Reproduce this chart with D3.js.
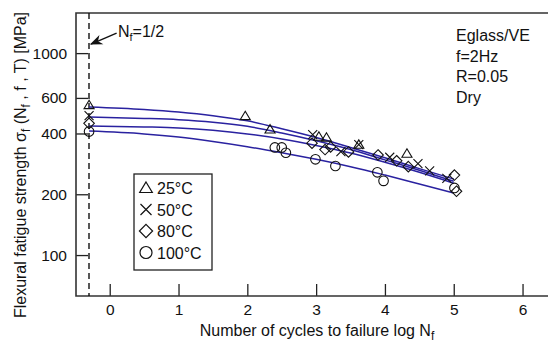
<!DOCTYPE html>
<html>
<head>
<meta charset="utf-8">
<script src="https://cdn.jsdelivr.net/npm/d3@7"></script>
<style>
  body { margin: 0; background: #fff; }
  svg text { font-family: "Liberation Sans", Arial, sans-serif; fill: #111; }
</style>
</head>
<body>
<div id="chart"></div>
<script>
// fitted curves at these log Nf positions
const curveLogN = [-0.3, 0.5, 1.0, 1.5, 2.0, 2.5, 3.0, 3.5, 4.0, 4.5, 5.0];
const fit25 = [541, 526, 511, 490, 462, 422, 382, 341, 303, 268, 238];
const fit50 = [482, 475, 468, 455, 434, 402, 368, 333, 296, 263, 232];
const fit80 = [436, 431, 426, 415, 398, 376, 349, 320, 288, 257, 227];
const fit100 = [411, 398, 384, 365, 344, 321, 298, 274, 249, 225, 203];

// measured points
const logN25 = [-0.30, 1.97, 2.33, 3.04, 3.15, 3.62, 4.32];
const sig25 = [553, 488, 419, 386, 382, 352, 318];
const logN50 = [-0.30, 2.95, 3.36, 3.62, 4.07, 4.48, 4.65, 4.90];
const sig50 = [490, 395, 325, 352, 305, 284, 261, 240];
const logN80 = [-0.30, 2.94, 3.13, 3.21, 3.47, 3.90, 4.17, 4.34, 5.01, 5.04];
const sig80 = [449, 358, 333, 343, 324, 313, 293, 274, 249, 207];
const logN100 = [-0.30, 2.40, 2.50, 2.56, 2.99, 3.28, 3.89, 3.98, 5.01];
const sig100 = [409, 341, 341, 321, 298, 276, 257, 233, 215];

const xTicks = [0, 1, 2, 3, 4, 5, 6];
const yTicks = [100, 200, 400, 600, 1000];
const legendLabels = ["25°C", "50°C", "80°C", "100°C"];
const infoLines = ["Eglass/VE", "f=2Hz", "R=0.05", "Dry"];
const halfCycle = Math.log10(0.5);

const width = 548, height = 342;
const margin = { top: 13, right: 0, bottom: 46, left: 76 };

const svg = d3.select("#chart").append("svg")
    .attr("width", width)
    .attr("height", height);

const x = d3.scaleLinear()
    .domain([-0.49, 6.37])
    .range([margin.left, width - margin.right]);

const y = d3.scaleLog()
    .domain([62.7, 1580])
    .range([height - margin.bottom, margin.top]);

const defs = svg.append("defs");
defs.append("marker")
    .attr("id", "arrow")
    .attr("viewBox", "0 0 10 10")
    .attr("refX", 9).attr("refY", 5)
    .attr("markerWidth", 9).attr("markerHeight", 9)
    .attr("orient", "auto")
    .append("path")
    .attr("d", "M0,1 L10,5 L0,9 L3,5 Z")
    .attr("fill", "#111");

// axes with inward ticks
const yAxis = svg.append("g")
    .attr("transform", `translate(${margin.left},0)`)
    .call(d3.axisLeft(y).tickValues(yTicks).tickFormat(d3.format("d"))
        .tickSizeInner(-12).tickSizeOuter(0).tickPadding(9));
const xAxis = svg.append("g")
    .attr("transform", `translate(0,${height - margin.bottom})`)
    .call(d3.axisBottom(x).tickValues(xTicks).tickFormat(d3.format("d"))
        .tickSizeInner(-12).tickSizeOuter(0).tickPadding(8));
[xAxis, yAxis].forEach(g => {
    g.select(".domain").remove();
    g.selectAll(".tick line").attr("stroke", "#222").attr("stroke-width", 1.3);
    g.selectAll(".tick text").attr("font-size", 15.5).attr("fill", "#111")
        .style("font-family", "Liberation Sans, Arial, sans-serif");
});

// frame: left, top, bottom
svg.append("path")
    .attr("d", `M${width + 2},${margin.top} H${margin.left} V${height - margin.bottom} H${width + 2}`)
    .attr("fill", "none")
    .attr("stroke", "#333")
    .attr("stroke-width", 1.6);

// Nf = 1/2 dashed line
svg.append("line")
    .attr("x1", x(halfCycle)).attr("x2", x(halfCycle))
    .attr("y1", margin.top).attr("y2", height - margin.bottom)
    .attr("stroke", "#111")
    .attr("stroke-width", 1.4)
    .attr("stroke-dasharray", "6,4");

svg.append("line")
    .attr("x1", x(0.1)).attr("y1", y(1000) - 20)
    .attr("x2", x(halfCycle) + 2).attr("y2", y(1000) - 9)
    .attr("stroke", "#111")
    .attr("stroke-width", 1.4)
    .attr("marker-end", "url(#arrow)");

const nfLabel = svg.append("text")
    .attr("x", x(0.12)).attr("y", y(1000) - 16)
    .attr("font-size", 16);
nfLabel.append("tspan").text("N");
nfLabel.append("tspan").attr("font-size", 11).attr("dy", 4).text("f");
nfLabel.append("tspan").attr("dy", -4).text("=1/2");

// fitted curves
const fitLine = d3.line()
    .x((d, i) => x(curveLogN[i]))
    .y(d => y(d))
    .curve(d3.curveMonotoneX);

[fit25, fit50, fit80, fit100].forEach(f => {
    svg.append("path")
        .datum(f)
        .attr("d", fitLine)
        .attr("fill", "none")
        .attr("stroke", "#2a22a0")
        .attr("stroke-width", 1.5);
});

// marker shapes
const shapes = {
    tri: r => `M0,${-r} L${r * 1.05},${r * 0.75} L${-r * 1.05},${r * 0.75} Z`,
    cross: r => `M${-r},${-r} L${r},${r} M${r},${-r} L${-r},${r}`,
    diamond: r => `M0,${-r * 1.1} L${r * 1.1},0 L0,${r * 1.1} L${-r * 1.1},0 Z`,
    circle: r => `M${r},0 A${r},${r} 0 1,1 ${-r},0 A${r},${r} 0 1,1 ${r},0 Z`
};

const series = [
    { logN: logN25, sig: sig25, shape: "tri" },
    { logN: logN50, sig: sig50, shape: "cross" },
    { logN: logN80, sig: sig80, shape: "diamond" },
    { logN: logN100, sig: sig100, shape: "circle" }
];

series.forEach(s => {
    svg.append("g").selectAll("path")
        .data(s.logN)
        .join("path")
        .attr("transform", (d, i) => `translate(${x(d)},${y(s.sig[i])})`)
        .attr("d", shapes[s.shape](s.shape === "cross" ? 4.5 : 4.8))
        .attr("fill", "none")
        .attr("stroke", "#111")
        .attr("stroke-width", 1.1);
});

// legend
const legend = svg.append("g").attr("transform", "translate(134,174)");
legend.append("rect")
    .attr("width", 78).attr("height", 96)
    .attr("fill", "#fff")
    .attr("stroke", "#222")
    .attr("stroke-width", 1.3);
legendLabels.forEach((lab, i) => {
    const row = legend.append("g").attr("transform", `translate(12,${14 + i * 21.5})`);
    row.append("path")
        .attr("d", shapes[series[i].shape](series[i].shape === "cross" ? 5.5 : 6))
        .attr("fill", "none")
        .attr("stroke", "#111")
        .attr("stroke-width", 1.2);
    row.append("text")
        .attr("x", 11).attr("y", 6)
        .attr("font-size", 16)
        .text(lab);
});

// test conditions
svg.append("g").selectAll("text")
    .data(infoLines)
    .join("text")
    .attr("x", 456)
    .attr("y", (d, i) => 41 + i * 20.5)
    .attr("font-size", 16)
    .text(d => d);

// axis titles
const xTitle = svg.append("text")
    .attr("x", 317).attr("y", 336)
    .attr("text-anchor", "middle")
    .attr("font-size", 16);
xTitle.append("tspan").text("Number of cycles to failure log N");
xTitle.append("tspan").attr("font-size", 12).attr("dy", 4).text("f");

const yTitle = svg.append("text")
    .attr("transform", "translate(26,165) rotate(-90)")
    .attr("text-anchor", "middle")
    .attr("font-size", 16);
yTitle.append("tspan").text("Flexural fatigue strength σ");
yTitle.append("tspan").attr("font-size", 12).attr("dy", 4).text("f");
yTitle.append("tspan").attr("dy", -4).text(" (N");
yTitle.append("tspan").attr("font-size", 12).attr("dy", 4).text("f");
yTitle.append("tspan").attr("dy", -4).text(" , f , T) [MPa]");
</script>
</body>
</html>
